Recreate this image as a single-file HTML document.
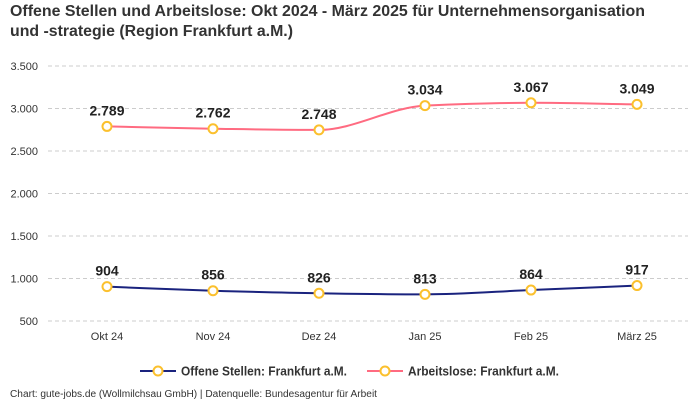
<!DOCTYPE html>
<html><head><meta charset="utf-8"><style>
body{margin:0;background:#fff;}
svg{display:block;font-family:"Liberation Sans Narrow","Liberation Sans",sans-serif;}
</style></head><body>
<svg id="chart" width="700" height="400" viewBox="0 0 700 400">
<text x="10" y="16" font-size="16" font-weight="bold" fill="#333" textLength="635" lengthAdjust="spacingAndGlyphs">Offene Stellen und Arbeitslose: Okt 2024 - März 2025 für Unternehmensorganisation</text>
<text x="10" y="36" font-size="16" font-weight="bold" fill="#333" textLength="283" lengthAdjust="spacingAndGlyphs">und -strategie (Region Frankfurt a.M.)</text>
<g id="grid"></g><g id="series"></g>
<g>
 <g>
  <line x1="140" y1="371" x2="176" y2="371" stroke="#1a237e" stroke-width="2"/>
  <circle cx="158" cy="371" r="4.5" fill="#fff" stroke="#fbc02d" stroke-width="2"/>
  <text x="181" y="375.5" font-size="12.5" font-weight="bold" fill="#333" textLength="166" lengthAdjust="spacingAndGlyphs">Offene Stellen: Frankfurt a.M.</text>
 </g>
 <g>
  <line x1="367" y1="371" x2="403" y2="371" stroke="#ff6b81" stroke-width="2"/>
  <circle cx="385" cy="371" r="4.5" fill="#fff" stroke="#fbc02d" stroke-width="2"/>
  <text x="408" y="375.5" font-size="12.5" font-weight="bold" fill="#333" textLength="151" lengthAdjust="spacingAndGlyphs">Arbeitslose: Frankfurt a.M.</text>
 </g>
</g>
<text x="10" y="397" font-size="10" fill="#333" textLength="367" lengthAdjust="spacingAndGlyphs">Chart: gute-jobs.de (Wollmilchsau GmbH) | Datenquelle: Bundesagentur für Arbeit</text>
</svg>
<script>
const categories=["Okt 24","Nov 24","Dez 24","Jan 25","Feb 25","März 25"];
const offeneStellen=[904,856,826,813,864,917];
const arbeitslose=[2789,2762,2748,3034,3067,3049];
const yTicks=[500,1000,1500,2000,2500,3000,3500];
const NS="http://www.w3.org/2000/svg";
const x=i=>107+i*106;
const y=v=>321-(v-500)/3000*255;
const fmt=v=>v.toLocaleString('de-DE');
function mk(t,a,p){const e=document.createElementNS(NS,t);for(const k in a)e.setAttribute(k,a[k]);p.appendChild(e);return e;}
const grid=document.getElementById('grid');
yTicks.forEach(v=>{
 const l=mk('line',{x1:48,x2:688,y1:y(v),y2:y(v),stroke:'#ccc','stroke-dasharray':'4,3'},grid);
 
 
 const t=mk('text',{x:38,y:y(v)+4,'text-anchor':'end','font-size':11,fill:'#333'},grid);
 
 
 t.textContent=fmt(v);
});
categories.forEach((c,i)=>{
 const t=mk('text',{x:x(i),y:340,'text-anchor':'middle','font-size':11,fill:'#333'},grid);
 
 
 t.textContent=c;
});
function monotone(pts){
 const n=pts.length,d=[],m=[];
 for(let i=0;i<n-1;i++)d.push((pts[i+1][1]-pts[i][1])/(pts[i+1][0]-pts[i][0]));
 m[0]=d[0];m[n-1]=d[n-2];
 for(let i=1;i<n-1;i++)m[i]=d[i-1]*d[i]<=0?0:2/(1/d[i-1]+1/d[i]);
 let s=`M${pts[0][0]},${pts[0][1]}`;
 for(let i=0;i<n-1;i++){const h=(pts[i+1][0]-pts[i][0])/3;
  s+=` C${pts[i][0]+h},${pts[i][1]+m[i]*h} ${pts[i+1][0]-h},${pts[i+1][1]-m[i+1]*h} ${pts[i+1][0]},${pts[i+1][1]}`;}
 return s;
}
const sg=document.getElementById('series');
[[offeneStellen,'#1a237e','offene-stellen'],[arbeitslose,'#ff6b81','arbeitslose']].forEach(([vals,col,name])=>{
 const pts=vals.map((v,i)=>[x(i),y(v)]);
 const p=mk('path',{d:monotone(pts),fill:'none',stroke:col,'stroke-width':2},sg);
 
 
 vals.forEach((v,i)=>{
  const c=mk('circle',{cx:x(i),cy:y(v),r:4.5,fill:'#fff',stroke:'#fbc02d','stroke-width':2},sg);
  
  
  const t=mk('text',{x:x(i),y:y(v)-11,'text-anchor':'middle','font-size':14,'font-weight':'bold',fill:'#222'},sg);
  
  
  t.textContent=fmt(v);
 });
});
</script>
</body></html>
